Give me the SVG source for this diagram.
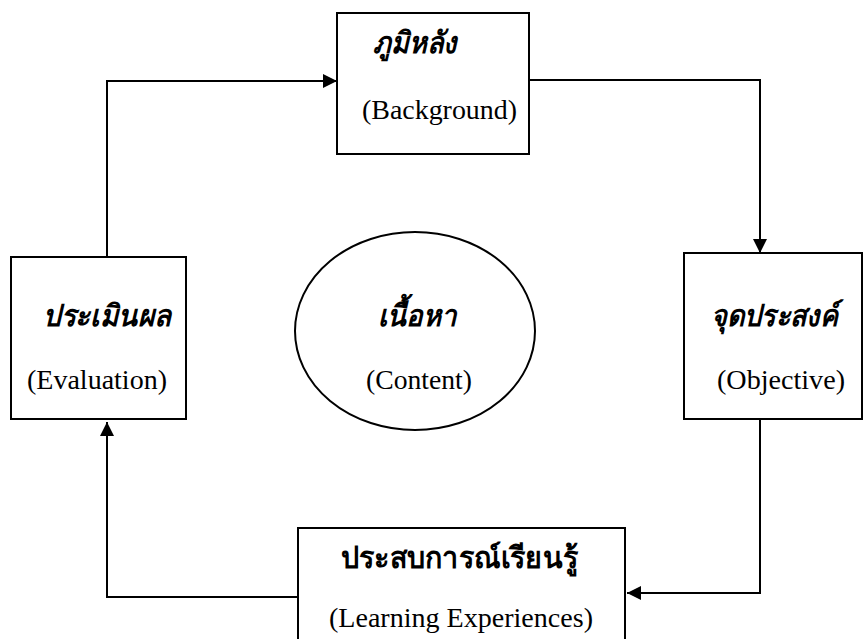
<svg xmlns="http://www.w3.org/2000/svg" width="864" height="639" viewBox="0 0 864 639">
  <defs>
    <style>
      .box { fill: #ffffff; stroke: #000000; stroke-width: 2; }
      .link { fill: none; stroke: #000000; stroke-width: 2; }
      .th { font-family: "Liberation Serif", serif; font-size: 30px; font-weight: bold; font-style: italic; fill: #000000; }
      .th-up { font-family: "Liberation Serif", serif; font-size: 30px; font-weight: bold; fill: #000000; }
      .en { font-family: "Liberation Serif", serif; font-size: 28px; fill: #000000; }
    </style>
    <marker id="arrow" viewBox="0 0 10 10" refX="10" refY="5" markerWidth="7.5" markerHeight="7" markerUnits="strokeWidth" orient="auto">
      <path d="M0,0 L10,5 L0,10 z" fill="#000000"/>
    </marker>
  </defs>

  <rect width="864" height="639" fill="#ffffff"/>

  <!-- cycle connectors -->
  <g id="connectors">
    <path class="link" d="M107,257 V81 H337" marker-end="url(#arrow)"/>
    <path class="link" d="M529,80 H760 V253" marker-end="url(#arrow)"/>
    <path class="link" d="M760,419 V593 H627" marker-end="url(#arrow)"/>
    <path class="link" d="M298,597 H107 V422" marker-end="url(#arrow)"/>
  </g>

  <g id="background">
    <rect class="box" x="337" y="13" width="192" height="141"/>
    <text class="th" x="373" y="53" textLength="84" lengthAdjust="spacingAndGlyphs">ภูมิหลัง</text>
    <text class="en" x="362" y="119" textLength="155" lengthAdjust="spacingAndGlyphs">(Background)</text>
  </g>

  <g id="evaluation">
    <rect class="box" x="11" y="257" width="175" height="162"/>
    <text class="th" x="43" y="326" textLength="128" lengthAdjust="spacingAndGlyphs">ประเมินผล</text>
    <text class="en" x="27" y="389" textLength="140" lengthAdjust="spacingAndGlyphs">(Evaluation)</text>
  </g>

  <g id="content">
    <ellipse class="box" cx="415" cy="331" rx="120" ry="99"/>
    <text class="th" x="378" y="326" textLength="79" lengthAdjust="spacingAndGlyphs">เนื้อหา</text>
    <text class="en" x="366" y="389" textLength="106" lengthAdjust="spacingAndGlyphs">(Content)</text>
  </g>

  <g id="objective">
    <rect class="box" x="684" y="253" width="178" height="166"/>
    <text class="th" x="711" y="326" textLength="127" lengthAdjust="spacingAndGlyphs">จุดประสงค์</text>
    <text class="en" x="717" y="389" textLength="128" lengthAdjust="spacingAndGlyphs">(Objective)</text>
  </g>

  <g id="learning">
    <rect class="box" x="298" y="528" width="327" height="130"/>
    <text class="th-up" x="341" y="568" textLength="237" lengthAdjust="spacingAndGlyphs">ประสบการณ์เรียนรู้</text>
    <text class="en" x="329" y="627" textLength="264" lengthAdjust="spacingAndGlyphs">(Learning Experiences)</text>
  </g>
</svg>
